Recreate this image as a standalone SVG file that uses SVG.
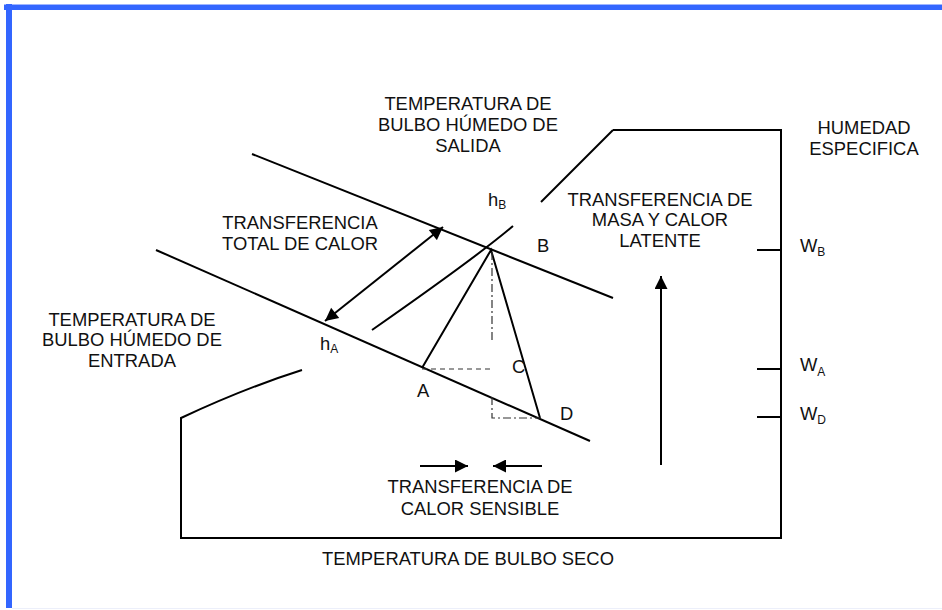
<svg xmlns="http://www.w3.org/2000/svg" width="942" height="610" viewBox="0 0 942 610">
  <style>
    text { font-family: "Liberation Sans", Arial, sans-serif; font-size: 18.4px; fill: #111; }
    .c { text-anchor: middle; }
    .sub { font-size: 12px; }
    .ln { fill: none; stroke: #000; stroke-width: 2; }
    .dash { fill: none; stroke: #333; stroke-width: 1.2; stroke-dasharray: 5 4; }
    .dashdot { fill: none; stroke: #333; stroke-width: 1.2; stroke-dasharray: 8 3 2 3; }
  </style>
  <defs>
    <marker id="ah" viewBox="0 0 10 10" refX="10" refY="5" markerUnits="userSpaceOnUse" markerWidth="15" markerHeight="13" orient="auto-start-reverse">
      <path d="M0,0 L10,5 L0,10 z" fill="#000"/>
    </marker>
  </defs>
  <rect width="942" height="610" fill="#fff"/>
  <g id="frame">
    <rect x="4" y="4" width="938" height="6" fill="#3366ff"/>
    <line x1="4" y1="4.5" x2="942" y2="4.5" stroke="#9fb5ff" stroke-width="1"/>
    <rect x="6" y="4" width="6" height="604" fill="#3366ff"/>
    <line x1="12" y1="608.5" x2="942" y2="608.5" stroke="#eceffa" stroke-width="1"/>
  </g>
  <g id="chart">
    <path class="ln" d="M613,130 L541,202"/>
    <path class="ln" d="M513,226 Q478,256 372,330"/>
    <path class="ln" d="M302,370 Q245,388 181,418 L181,538 L781,538 L781,130 L613,130"/>
    <line class="ln" x1="757" y1="250" x2="781" y2="250"/>
    <line class="ln" x1="757" y1="369" x2="781" y2="369"/>
    <line class="ln" x1="757" y1="417" x2="781" y2="417"/>
  </g>
  <g id="wetbulb-lines">
    <line class="ln" x1="252" y1="154" x2="613" y2="298"/>
    <line class="ln" x1="156" y1="250" x2="590" y2="441"/>
  </g>
  <g id="triangle">
    <path class="ln" d="M422,368 L491,250 L540,418"/>
    <line class="dashdot" x1="492" y1="252" x2="492" y2="343"/>
    <line class="dash" x1="422" y1="369" x2="492" y2="369"/>
    <path class="dashdot" d="M492,397 L492,418 L540,418"/>
  </g>
  <g id="connectors">
    <line class="ln" x1="325" y1="321" x2="443" y2="227" marker-start="url(#ah)" marker-end="url(#ah)"/>
    <line class="ln" x1="661" y1="465" x2="661" y2="276" marker-end="url(#ah)"/>
    <line class="ln" x1="420" y1="466" x2="468" y2="466" marker-end="url(#ah)"/>
    <line class="ln" x1="542" y1="466" x2="493" y2="466" marker-end="url(#ah)"/>
  </g>
  <g id="label-salida">
    <text class="c" x="468" y="110">TEMPERATURA DE</text>
    <text class="c" x="468" y="131">BULBO HÚMEDO DE</text>
    <text class="c" x="468" y="152">SALIDA</text>
  </g>
  <g id="label-humedad">
    <text class="c" x="864" y="134">HUMEDAD</text>
    <text class="c" x="864" y="155">ESPECIFICA</text>
  </g>
  <g id="label-total">
    <text class="c" x="300" y="229">TRANSFERENCIA</text>
    <text class="c" x="300" y="250">TOTAL DE CALOR</text>
  </g>
  <g id="label-masa">
    <text class="c" x="660" y="206">TRANSFERENCIA DE</text>
    <text class="c" x="660" y="226">MASA Y CALOR</text>
    <text class="c" x="660" y="247">LATENTE</text>
  </g>
  <g id="label-entrada">
    <text class="c" x="132" y="326">TEMPERATURA DE</text>
    <text class="c" x="132" y="346">BULBO HÚMEDO DE</text>
    <text class="c" x="132" y="367">ENTRADA</text>
  </g>
  <g id="label-sensible">
    <text class="c" x="480" y="493">TRANSFERENCIA DE</text>
    <text class="c" x="480" y="515">CALOR SENSIBLE</text>
  </g>
  <g id="label-seco">
    <text class="c" x="468" y="565">TEMPERATURA DE BULBO SECO</text>
  </g>
  <g id="points">
    <text x="488" y="206">h<tspan class="sub" dy="3">B</tspan></text>
    <text x="320" y="350">h<tspan class="sub" dy="3">A</tspan></text>
    <text x="537" y="252">B</text>
    <text x="417" y="397">A</text>
    <text x="512" y="373">C</text>
    <text x="560" y="420">D</text>
  </g>
  <g id="axis-labels">
    <text x="800" y="252">W<tspan class="sub" dy="4">B</tspan></text>
    <text x="800" y="371">W<tspan class="sub" dy="5">A</tspan></text>
    <text x="800" y="420">W<tspan class="sub" dy="4">D</tspan></text>
  </g>
</svg>
